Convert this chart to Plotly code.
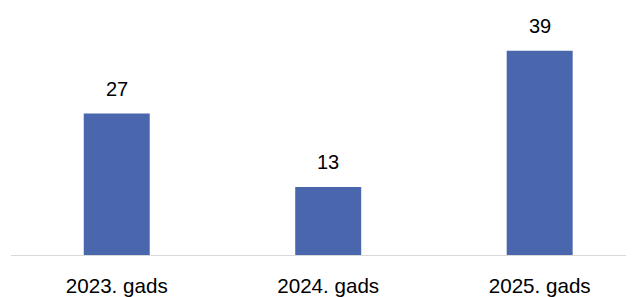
import plotly.graph_objects as go

categories = ["2023. gads", "2024. gads", "2025. gads"]
values = [27, 13, 39]

fig = go.Figure()
fig.add_trace(go.Bar(
    x=categories, y=values, width=0.312,
    marker=dict(color="#4A66AC", line=dict(width=0)),
    hoverinfo="skip",
))
for c, v in zip(categories, values):
    fig.add_annotation(x=c, y=v, text=str(v), showarrow=False, yshift=25,
                       font=dict(family="Liberation Sans", size=20, color="#000000"))

fig.update_layout(
    width=626, height=289,
    margin=dict(l=3, r=0, t=0, b=41.5),
    paper_bgcolor="white", plot_bgcolor="white",
    showlegend=False,
    font=dict(family="Liberation Sans", size=20, color="#000000"),
    xaxis=dict(
        range=[-0.5, 2.446], showgrid=False, zeroline=False,
        showline=True, linecolor="#D9D9D9", linewidth=1,
        ticks="", tickfont=dict(size=20.6, color="#000000"),
        ticklabelstandoff=12,
    ),
    yaxis=dict(range=[0, 47.14], visible=False),
)
fig.write_html("out.html")
